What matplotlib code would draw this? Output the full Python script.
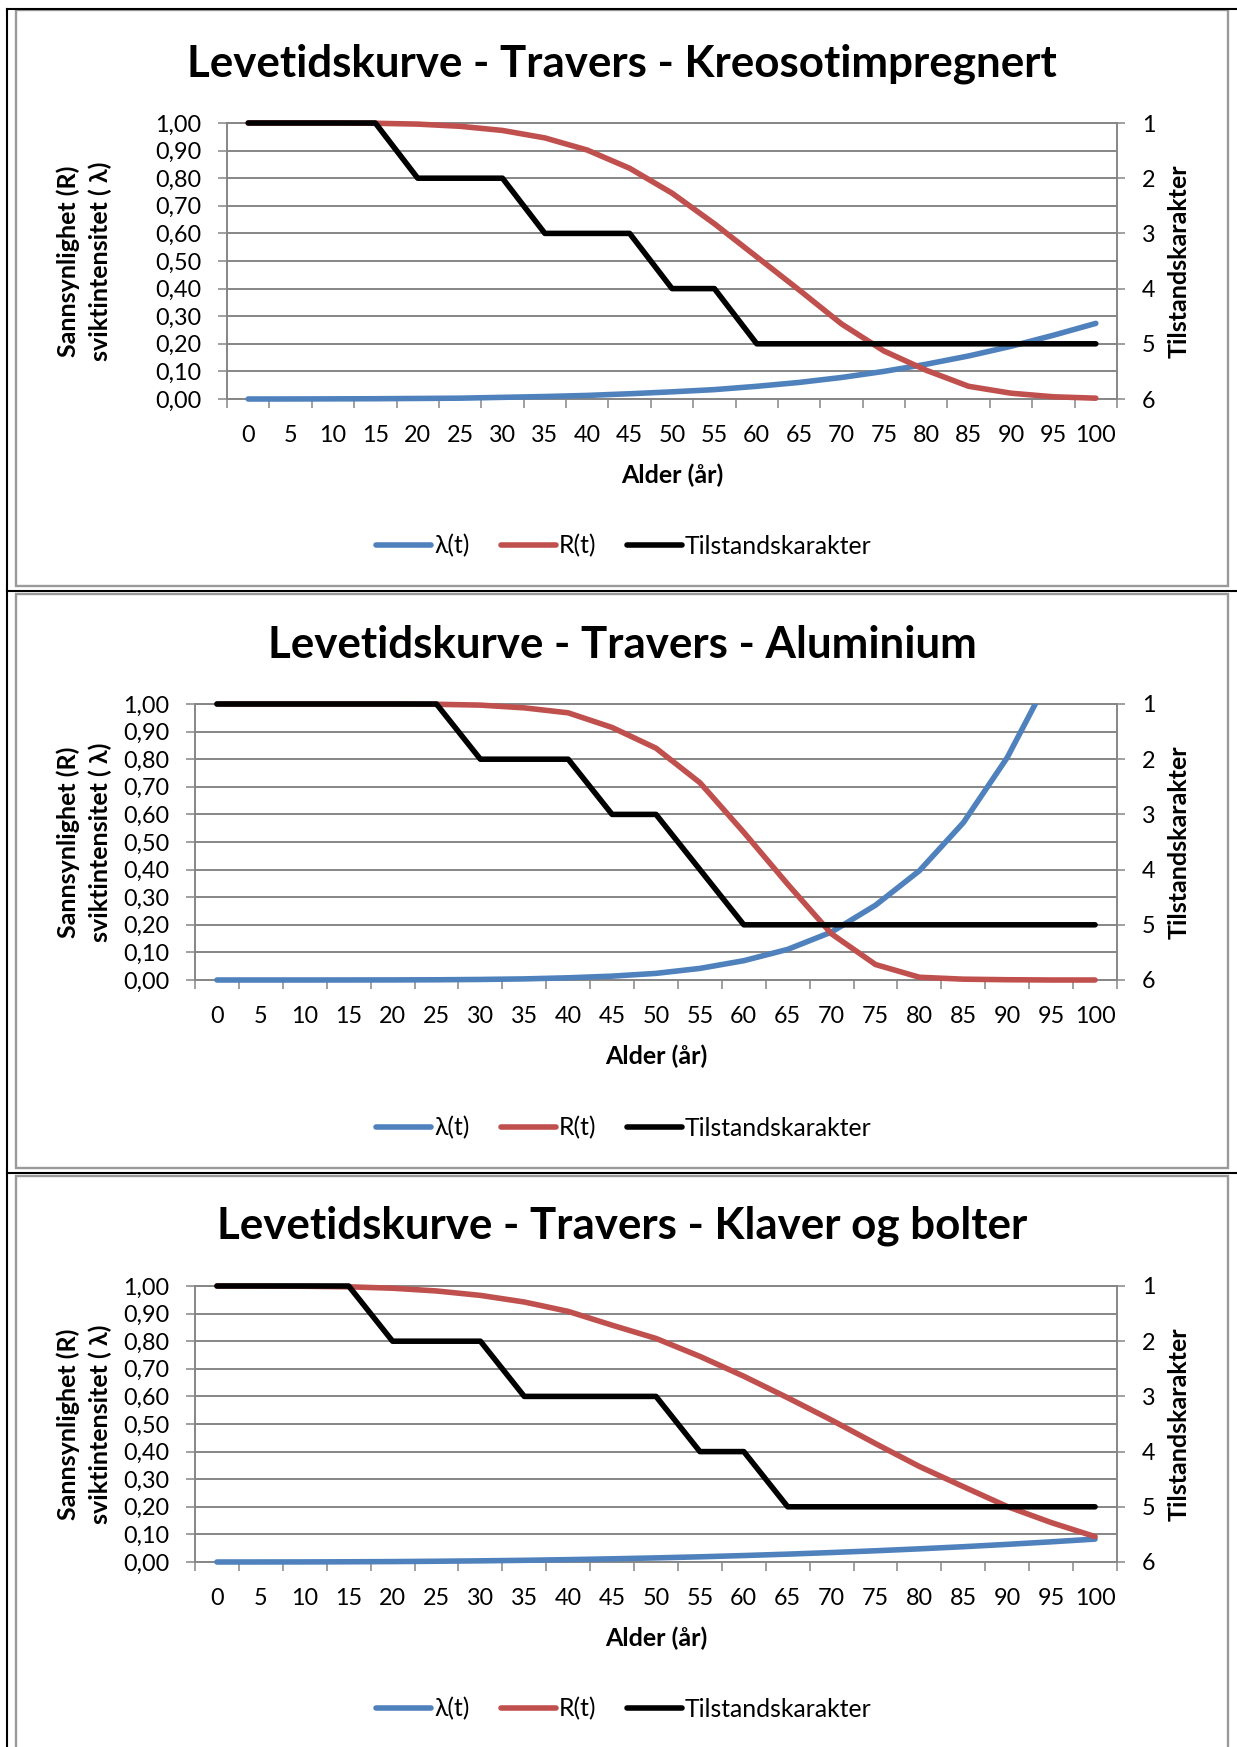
import matplotlib
matplotlib.use("Agg")
import matplotlib.pyplot as plt
from matplotlib.lines import Line2D
from matplotlib.patches import Rectangle

plt.rcParams['font.family'] = ['Lato', 'DejaVu Sans']

# Age categories (years) and axis tick labels
ages = [0, 5, 10, 15, 20, 25, 30, 35, 40, 45, 50, 55, 60, 65, 70, 75, 80, 85, 90, 95, 100]
age_labels = ["0", "5", "10", "15", "20", "25", "30", "35", "40", "45", "50",
              "55", "60", "65", "70", "75", "80", "85", "90", "95", "100"]
prob_ticks = [0.0, 0.1, 0.2, 0.3, 0.4, 0.5, 0.6, 0.7, 0.8, 0.9, 1.0]
prob_labels = ["0,00", "0,10", "0,20", "0,30", "0,40", "0,50", "0,60", "0,70", "0,80", "0,90", "1,00"]
grade_ticks = [1, 2, 3, 4, 5, 6]
grade_labels = ["1", "2", "3", "4", "5", "6"]

titles = [
    "Levetidskurve - Travers - Kreosotimpregnert",
    "Levetidskurve - Travers - Aluminium",
    "Levetidskurve - Travers - Klaver og bolter",
]

# Kreosotimpregnert
lam_kreosot = [0.000, 0.0001, 0.0005, 0.001, 0.002, 0.003, 0.006, 0.009, 0.013, 0.019, 0.026,
               0.034, 0.046, 0.060, 0.078, 0.100, 0.126, 0.156, 0.191, 0.231, 0.274]
rel_kreosot = [1.000, 1.000, 1.000, 0.999, 0.996, 0.988, 0.973, 0.946, 0.902, 0.836, 0.746,
               0.635, 0.515, 0.395, 0.272, 0.174, 0.104, 0.046, 0.021, 0.008, 0.003]
grade_kreosot = [1, 1, 1, 1, 2, 2, 2, 3, 3, 3, 4, 4, 5, 5, 5, 5, 5, 5, 5, 5, 5]

# Aluminium
lam_alu = [0.000, 0.000, 0.000, 0.0001, 0.0003, 0.0008, 0.002, 0.004, 0.008, 0.014, 0.024,
           0.042, 0.070, 0.111, 0.174, 0.271, 0.396, 0.570, 0.806, 1.110, 1.520]
rel_alu = [1.000, 1.000, 1.000, 1.000, 1.000, 0.999, 0.996, 0.986, 0.968, 0.915, 0.840,
           0.715, 0.535, 0.347, 0.167, 0.056, 0.010, 0.003, 0.001, 0.000, 0.000]
grade_alu = [1, 1, 1, 1, 1, 1, 2, 2, 2, 3, 3, 4, 5, 5, 5, 5, 5, 5, 5, 5, 5]

# Klaver og bolter
lam_klaver = [0.000, 0.0001, 0.0003, 0.0008, 0.0015, 0.0027, 0.0042, 0.0061, 0.0086, 0.0115, 0.0149,
              0.0188, 0.0234, 0.0285, 0.0343, 0.0407, 0.0477, 0.0554, 0.0639, 0.0731, 0.0830]
rel_klaver = [1.000, 1.000, 0.999, 0.997, 0.992, 0.982, 0.966, 0.942, 0.908, 0.858, 0.810,
              0.745, 0.673, 0.595, 0.514, 0.429, 0.346, 0.273, 0.201, 0.143, 0.092]
grade_klaver = [1, 1, 1, 1, 2, 2, 2, 3, 3, 3, 3, 4, 4, 5, 5, 5, 5, 5, 5, 5, 5]

series_names = ["\u03bb(t)", "R(t)", "Tilstandskarakter"]

W, H = 1237, 1747
fig = plt.figure(figsize=(W / 100, H / 100), dpi=100)

GRID = "#868686"
FRAME = "#9a9a9a"
BLUE = "#4F81BD"
RED = "#C0504D"
BLACK = "#000000"
LW = 4.0
TICK_FS = 16.8
LEGEND_FS = 17.8
LABEL_FS = 18
TITLE_FS = 31.6


def fx(px):
    return px / W


def fy(py):
    return 1 - py / H


panels = [
    dict(title=titles[0], lam=lam_kreosot, rel=rel_kreosot, grade=grade_kreosot,
         box=(227, 123, 1117, 399), title_y=77, frame=(16, 10, 1228, 586), legend_y=546),
    dict(title=titles[1], lam=lam_alu, rel=rel_alu, grade=grade_alu,
         box=(195, 704, 1117, 980), title_y=658, frame=(16, 594, 1228, 1168), legend_y=1128),
    dict(title=titles[2], lam=lam_klaver, rel=rel_klaver, grade=grade_klaver,
         box=(195, 1286, 1117, 1562), title_y=1238, frame=(16, 1176, 1228, 1800), legend_y=1709),
]

# Grey chart frames
for p in panels:
    l, t, r, b = p["frame"]
    fig.add_artist(Rectangle((fx(l), fy(b)), (r - l) / W, (b - t) / H,
                             transform=fig.transFigure, fill=False,
                             edgecolor=FRAME, linewidth=1.7, zorder=0))

# Black table rules
fig.add_artist(Line2D([fx(7), fx(7)], [fy(9), fy(1747)], transform=fig.transFigure,
                      color=BLACK, linewidth=1.5))
for yrule in (9, 591, 1172.5):
    fig.add_artist(Line2D([fx(7), fx(1237)], [fy(yrule), fy(yrule)], transform=fig.transFigure,
                          color=BLACK, linewidth=1.5))

boundaries = [a - 2.5 for a in ages] + [ages[-1] + 2.5]

for p in panels:
    l, t, r, b = p["box"]
    ax = fig.add_axes([fx(l), fy(b), (r - l) / W, (b - t) / H])
    ax.set_xlim(boundaries[0], boundaries[-1])
    ax.set_ylim(0, 1)
    ax.set_axisbelow(True)

    h_lam, = ax.plot(ages, p["lam"], color=BLUE, linewidth=LW, solid_capstyle="round",
                     solid_joinstyle="round", zorder=3)
    h_lam.set_clip_path(Rectangle((-0.05, -0.05), 1.1, 1.05, transform=ax.transAxes))
    h_rel, = ax.plot(ages, p["rel"], color=RED, linewidth=LW, solid_capstyle="round",
                     solid_joinstyle="round", zorder=3, clip_on=False)

    ax.set_yticks(prob_ticks)
    ax.set_yticklabels(prob_labels)
    ax.yaxis.grid(True, color=GRID, linewidth=1.4)
    ax.tick_params(axis="y", direction="out", length=6.5, width=1.1, color=GRID,
                   pad=12, labelsize=TICK_FS)

    ax.set_xticks(ages)
    ax.set_xticklabels(age_labels)
    ax.set_xticks(boundaries, minor=True)
    ax.tick_params(axis="x", which="major", length=0, pad=19, labelsize=TICK_FS)
    ax.tick_params(axis="x", which="minor", direction="out", length=6.5, width=1.1, color=GRID)

    for side in ("left", "bottom", "top"):
        ax.spines[side].set_color(GRID)
        ax.spines[side].set_linewidth(1.4)
    ax.spines["right"].set_visible(False)

    ax.set_xlabel("Alder (\u00e5r)", fontsize=LABEL_FS, fontweight="bold")
    ax.xaxis.set_label_coords(0.5, -76 / (b - t))
    ax.xaxis.label.set_va("center")

    ax.set_ylabel("Sannsynlighet (R)\nsviktintensitet ( \u03bb)", fontsize=LABEL_FS,
                  fontweight="bold", linespacing=1.43)
    ax.yaxis.set_label_coords((84 - l) / (r - l), 0.5)
    ax.yaxis.label.set_va("center")

    ax2 = ax.twinx()
    ax2.set_ylim(6, 1)
    h_grade, = ax2.plot(ages, p["grade"], color=BLACK, linewidth=LW, solid_capstyle="round",
                        solid_joinstyle="round", zorder=3, clip_on=False)
    ax2.set_yticks(grade_ticks)
    ax2.set_yticklabels(grade_labels)
    ax2.tick_params(axis="y", direction="out", length=6, width=1.1, color=GRID,
                    pad=12, labelsize=TICK_FS)
    for side in ("left", "bottom", "top"):
        ax2.spines[side].set_visible(False)
    ax2.spines["right"].set_color(GRID)
    ax2.spines["right"].set_linewidth(1.4)
    ax2.set_ylabel("Tilstandskarakter", fontsize=LABEL_FS, fontweight="bold")
    ax2.yaxis.set_label_coords((1179 - l) / (r - l), 0.5)
    ax2.yaxis.label.set_va("center")

    fig.text(fx(622), fy(p["title_y"]), p["title"], ha="center", va="baseline",
             fontsize=TITLE_FS, fontweight="bold")

    fig.legend([h_lam, h_rel, h_grade], series_names, loc="center",
               bbox_to_anchor=(fx(624), fy(p["legend_y"])), ncol=3, frameon=False,
               fontsize=LEGEND_FS, handlelength=2.23, handletextpad=0.12,
               columnspacing=1.25, borderpad=0)

fig.savefig("out.png", dpi=100)
